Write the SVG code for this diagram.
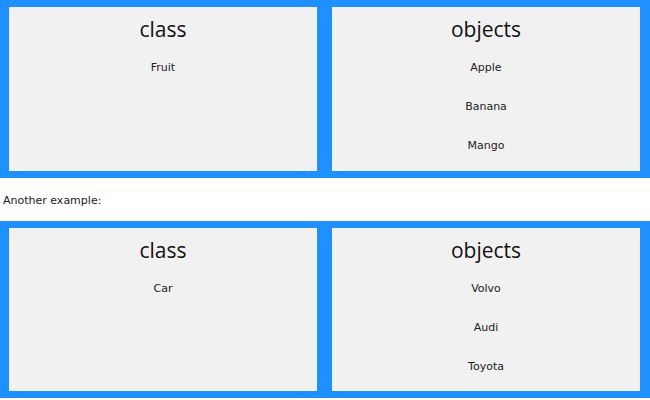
<svg xmlns="http://www.w3.org/2000/svg" width="650" height="400" viewBox="0 0 650 400">
<style>
.container{fill:#1E90FF}
.item{fill:#F1F1F1}
.title{font-family:"Open Sans","Noto Sans",sans-serif;font-size:21px;fill:#111;text-anchor:middle}
.label{font-family:"DejaVu Sans","Noto Sans",sans-serif;font-size:11px;fill:#222;text-anchor:middle}
.plain{font-family:"DejaVu Sans","Noto Sans",sans-serif;font-size:11px;fill:#222}
</style>
<rect width="650" height="400" fill="#FFFFFF"/>
<g id="grid1">
<rect class="container" x="0" y="0" width="650" height="178"/>
<g id="class-fruit">
<rect class="item" x="9" y="7" width="308" height="164"/>
<text class="title" x="163" y="37">class</text>
<text class="label" x="163" y="71">Fruit</text>
</g>
<g id="objects-fruit">
<rect class="item" x="332" y="7" width="308" height="164"/>
<text class="title" x="486" y="37">objects</text>
<text class="label" x="486" y="71">Apple</text>
<text class="label" x="486" y="110">Banana</text>
<text class="label" x="486" y="149">Mango</text>
</g>
</g>
<text id="another" class="plain" x="3" y="204">Another example:</text>
<g id="grid2">
<rect class="container" x="0" y="221" width="650" height="177"/>
<g id="class-car">
<rect class="item" x="9" y="228" width="308" height="163"/>
<text class="title" x="163" y="258">class</text>
<text class="label" x="163" y="292">Car</text>
</g>
<g id="objects-car">
<rect class="item" x="332" y="228" width="308" height="163"/>
<text class="title" x="486" y="258">objects</text>
<text class="label" x="486" y="292">Volvo</text>
<text class="label" x="486" y="331">Audi</text>
<text class="label" x="486" y="370">Toyota</text>
</g>
</g>
<g id="connectors"/>
</svg>
